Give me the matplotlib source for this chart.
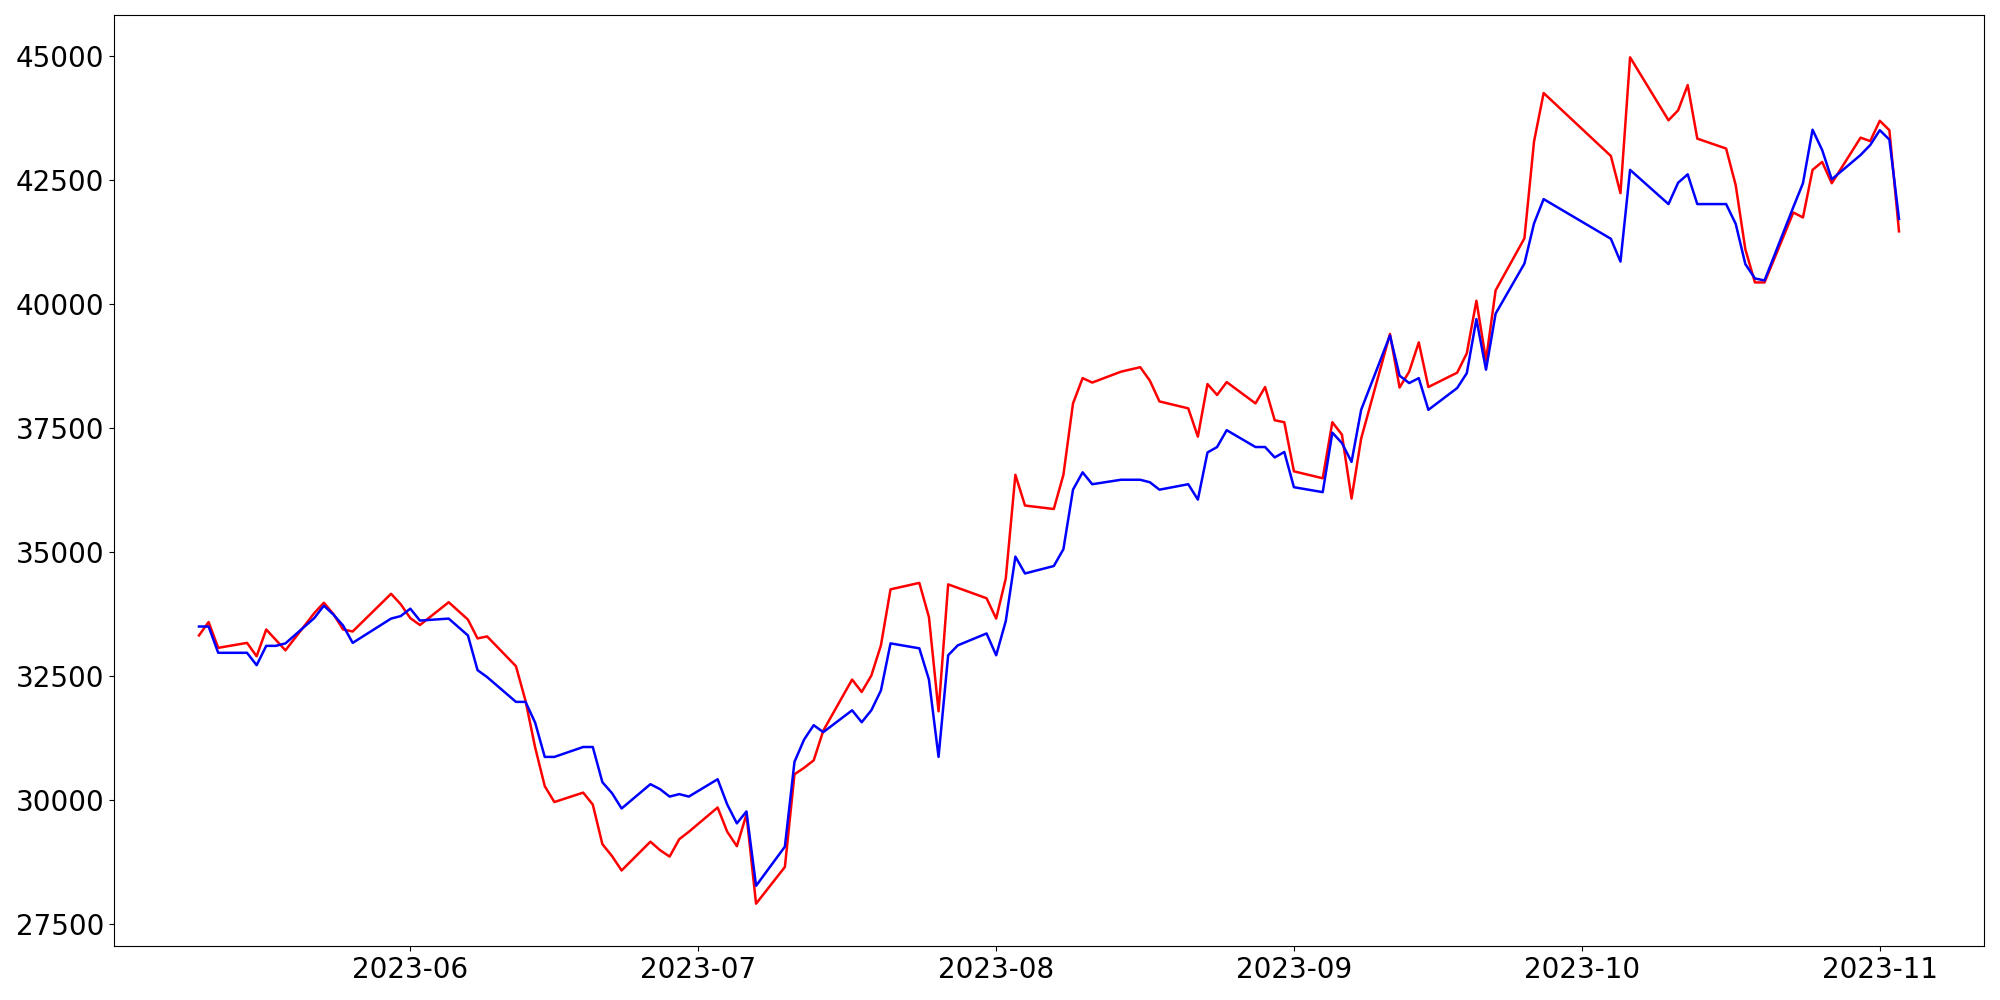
import matplotlib
matplotlib.use("Agg")
import matplotlib.pyplot as plt
import matplotlib.dates as mdates
import pandas as pd

dates = [
    "2023-05-10", "2023-05-11", "2023-05-12", "2023-05-15", "2023-05-16", "2023-05-17", "2023-05-18", "2023-05-19",
    "2023-05-22", "2023-05-23", "2023-05-24", "2023-05-25", "2023-05-26", "2023-05-30", "2023-05-31",
    "2023-06-01", "2023-06-02", "2023-06-05", "2023-06-07", "2023-06-08", "2023-06-09",
    "2023-06-12", "2023-06-13", "2023-06-14", "2023-06-15", "2023-06-16",
    "2023-06-19", "2023-06-20", "2023-06-21", "2023-06-22", "2023-06-23",
    "2023-06-26", "2023-06-27", "2023-06-28", "2023-06-29", "2023-06-30",
    "2023-07-03", "2023-07-04", "2023-07-05", "2023-07-06", "2023-07-07",
    "2023-07-10", "2023-07-11", "2023-07-12", "2023-07-13", "2023-07-14",
    "2023-07-17", "2023-07-18", "2023-07-19", "2023-07-20", "2023-07-21",
    "2023-07-24", "2023-07-25", "2023-07-26", "2023-07-27", "2023-07-28",
    "2023-07-31", "2023-08-01", "2023-08-02", "2023-08-03", "2023-08-04",
    "2023-08-07", "2023-08-08", "2023-08-09", "2023-08-10", "2023-08-11",
    "2023-08-14", "2023-08-16", "2023-08-17", "2023-08-18",
    "2023-08-21", "2023-08-22", "2023-08-23", "2023-08-24", "2023-08-25",
    "2023-08-28", "2023-08-29", "2023-08-30", "2023-08-31", "2023-09-01",
    "2023-09-04", "2023-09-05", "2023-09-06", "2023-09-07", "2023-09-08",
    "2023-09-11", "2023-09-12", "2023-09-13", "2023-09-14", "2023-09-15",
    "2023-09-18", "2023-09-19", "2023-09-20", "2023-09-21", "2023-09-22",
    "2023-09-25", "2023-09-26", "2023-09-27",
    "2023-10-04", "2023-10-05", "2023-10-06",
    "2023-10-10", "2023-10-11", "2023-10-12", "2023-10-13",
    "2023-10-16", "2023-10-17", "2023-10-18", "2023-10-19", "2023-10-20",
    "2023-10-23", "2023-10-24", "2023-10-25", "2023-10-26", "2023-10-27",
    "2023-10-30", "2023-10-31", "2023-11-01", "2023-11-02", "2023-11-03",
]

red_values = [
    33320, 33590, 33070, 33170, 32900, 33440, 33230, 33020,
    33770, 33980, 33750, 33440, 33400, 34160, 33950,
    33670, 33530, 33990, 33640, 33260, 33300,
    32700, 32000, 31060, 30280, 29960,
    30150, 29910, 29110, 28870, 28580,
    29160, 28990, 28860, 29210, 29360,
    29850, 29360, 29070, 29710, 27910,
    28650, 30520, 30650, 30800, 31400,
    32430, 32180, 32510, 33120, 34250,
    34380, 33690, 31790, 34350, 34280,
    34070, 33660, 34470, 36560, 35940,
    35870, 36560, 38000, 38510, 38420,
    38640, 38730, 38460, 38040,
    37900, 37330, 38390, 38170, 38430,
    38000, 38330, 37660, 37620, 36630,
    36490, 37620, 37370, 36080, 37290,
    39400, 38320, 38640, 39230, 38330,
    38620, 39010, 40070, 38870, 40280,
    41330, 43280, 44260,
    42990, 42240, 44980,
    43710, 43910, 44420, 43340,
    43140, 42400, 41110, 40440, 40440,
    41850, 41750, 42710, 42870, 42440,
    43360, 43290, 43700, 43510, 41470,
]

blue_values = [
    33500, 33500, 32970, 32970, 32720, 33110, 33110, 33160,
    33670, 33920, 33740, 33520, 33170, 33660, 33710,
    33860, 33620, 33660, 33320, 32620, 32480,
    31980, 31980, 31560, 30870, 30870,
    31070, 31070, 30360, 30140, 29830,
    30320, 30220, 30070, 30120, 30070,
    30420, 29910, 29530, 29770, 28270,
    29060, 30770, 31220, 31510, 31370,
    31810, 31570, 31810, 32210, 33160,
    33060, 32430, 30870, 32920, 33120,
    33360, 32920, 33610, 34910, 34570,
    34720, 35060, 36260, 36610, 36370,
    36460, 36460, 36410, 36260,
    36370, 36060, 37010, 37120, 37460,
    37120, 37120, 36910, 37020, 36310,
    36210, 37410, 37200, 36820, 37870,
    39370, 38560, 38410, 38510, 37870,
    38310, 38610, 39700, 38680, 39810,
    40820, 41630, 42120,
    41320, 40860, 42710,
    42020, 42450, 42620, 42020,
    42020, 41620, 40810, 40520, 40480,
    41960, 42440, 43520, 43110, 42520,
    43010, 43210, 43510, 43320, 41720,
]

x = pd.to_datetime(dates)

fig, ax = plt.subplots(figsize=(20, 10), dpi=100)
ax.plot(x, red_values, color="red", linewidth=1.8)
ax.plot(x, blue_values, color="blue", linewidth=1.8)

ax.xaxis.set_major_locator(mdates.MonthLocator())
ax.xaxis.set_major_formatter(mdates.DateFormatter("%Y-%m"))
ax.tick_params(axis="both", labelsize=20)

fig.subplots_adjust(left=0.057, right=0.992, bottom=0.054, top=0.985)
fig.savefig("out.png", dpi=100)
